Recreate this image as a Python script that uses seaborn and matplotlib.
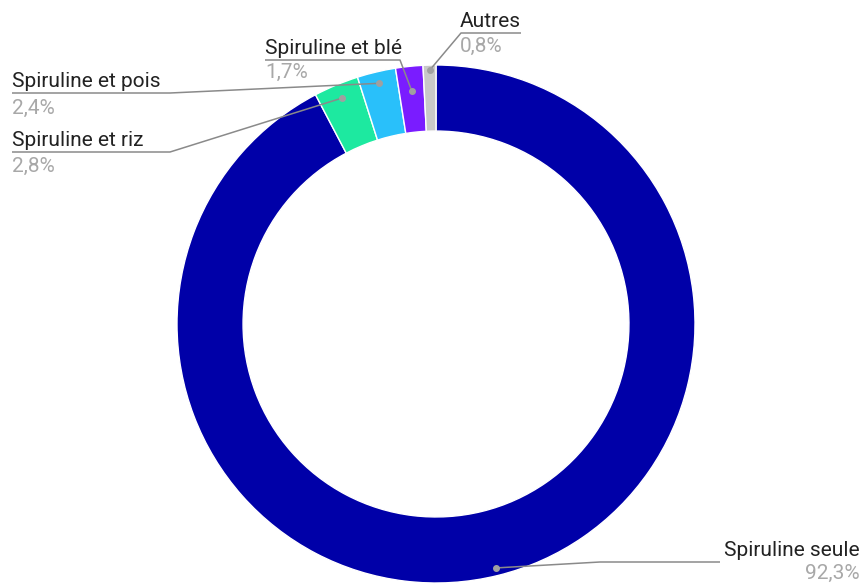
import numpy as np
import seaborn as sns
from matplotlib import pyplot as plt

# donnees
labels = ["Spiruline seule", "Spiruline et riz", "Spiruline et pois", "Spiruline et blé", "Autres"]
values = [92.3, 2.8, 2.4, 1.7, 0.8]
pct_labels = ["92,3%", "2,8%", "2,4%", "1,7%", "0,8%"]
colors = ["#0000a8", "#1de9a0", "#29c0fa", "#7a1cff", "#c8c8c8"]

sns.set_theme(style="white")
plt.rcParams['font.family'] = ['Roboto', 'DejaVu Sans']

fig = plt.figure(figsize=(8.66, 5.85), dpi=100)
ax = fig.add_axes([0, 0, 1, 1])

cx, cy, R = 436, 324, 259
wedges, _ = ax.pie(values, colors=colors, startangle=-90, counterclock=True,
	center=(cx, cy), radius=R,
	wedgeprops=dict(width=R * 0.255, edgecolor="white", linewidth=1.0))
ax.set_xlim(0, 866)
ax.set_ylim(585, 0)
ax.set_aspect("equal")
ax.axis("off")

# position des etiquettes (texte x, ligne y, x du coude, alignement, decalage du %)
label_pos = [
	(860, 562, 600, "right", 17),
	(12, 152, 170, "left", 20),
	(12, 93, 170, "left", 21),
	(265, 60, 400, "left", 18),
	(460, 33, 461, "left", 19),
]
line_end = [720, 12, 12, 265, 521]
anchor_r = [0.97, 0.945, 0.955, 0.905, 0.98]

lc = "#8a8a8a"
for i, w in enumerate(wedges):
	th = np.deg2rad((w.theta1 + w.theta2) / 2)
	ax_, ay_ = cx + R * anchor_r[i] * np.cos(th), cy + R * anchor_r[i] * np.sin(th)
	tx, ly, ex, ha, dp = label_pos[i]
	ax.plot([ax_, ex, line_end[i]], [ay_, ly, ly], color=lc, lw=1.1, solid_capstyle="butt")
	ax.plot([ax_], [ay_], marker="o", ms=4, color="#a0a0a0", mec="#a0a0a0")
	ax.text(tx, ly - 6, labels[i], ha=ha, va="baseline", fontsize=15, color="#222222")
	ax.text(tx, ly + dp, pct_labels[i], ha=ha, va="baseline", fontsize=15, color="#a8a8a8")

fig.savefig("out.png", dpi=100)
